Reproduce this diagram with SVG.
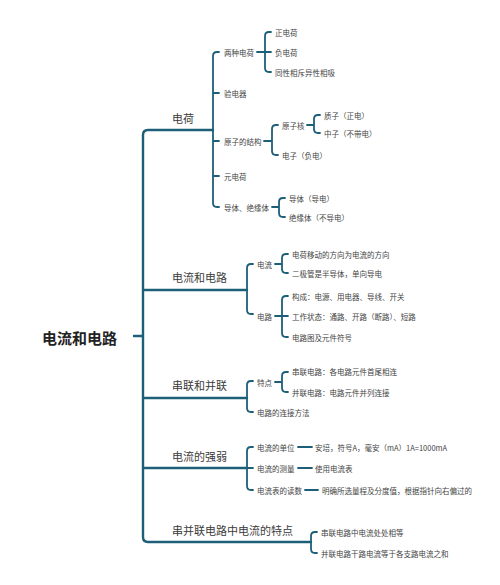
<svg xmlns="http://www.w3.org/2000/svg" width="500" height="585" viewBox="0 0 500 585">
<style>
.ln{fill:none;stroke:#1d5f78;stroke-linecap:round;stroke-linejoin:round}
.main{stroke-width:2.4}
.sub{stroke-width:1.8}
text{font-family:"Noto Sans CJK SC","Noto Sans",sans-serif;fill:#333;dominant-baseline:central}
.root{font-size:15px;font-weight:bold;fill:#222}
.t1{font-size:11px;fill:#3a3a3a}
.t2{font-size:7.5px;fill:#444}
</style>
<rect width="500" height="585" fill="#fff"/>
<g id="connectors">
<path class="ln main" d="M134 336 H143"/>
<path class="ln main" d="M213 130 H148 Q143 130 143 135 V537 Q143 542 148 542 H311"/>
<path class="ln main" d="M143 290 H247 M143 398 H247 M143 468 H247"/>
<path class="ln sub" d="M219 52 H217 Q213 52 213 56 V203 Q213 207 217 207 H219 M213 93 H219 M213 141 H219 M213 176 H219"/>
<path class="ln sub" d="M257 52 H271 M271 32 H269 Q265 32 265 36 V68 Q265 72 269 72 H271"/>
<path class="ln sub" d="M264 141 H272 M278 125 H276 Q272 125 272 129 V151 Q272 155 276 155 H278"/>
<path class="ln sub" d="M307 125 H314 M320 115 H318 Q314 115 314 119 V129 Q314 133 318 133 H320"/>
<path class="ln sub" d="M272 207 H279 M285 198 H283 Q279 198 279 202 V213 Q279 217 283 217 H285"/>
<path class="ln sub" d="M253 264 H251 Q247 264 247 268 V310 Q247 314 251 314 H253"/>
<path class="ln sub" d="M275 264 H282 M288 254 H286 Q282 254 282 258 V269 Q282 273 286 273 H288"/>
<path class="ln sub" d="M275 316 H282 M288 296 H286 Q282 296 282 300 V333 Q282 337 286 337 H288 M282 316 H288"/>
<path class="ln sub" d="M253 381 H251 Q247 381 247 385 V408 Q247 412 251 412 H253"/>
<path class="ln sub" d="M275 382 H282 M288 372 H286 Q282 372 282 376 V388 Q282 392 286 392 H288"/>
<path class="ln sub" d="M253 447 H251 Q247 447 247 451 V486 Q247 490 251 490 H253 M247 468 H253"/>
<path class="ln sub" d="M298 447 H312 M298 468 H312 M305 490 H318"/>
<path class="ln sub" d="M317 532 H315 Q311 532 311 536 V549 Q311 553 315 553 H317"/>
</g>
<g id="root"><text class="root" x="42" y="337">电流和电路</text></g>
<g id="n1"><text class="t1" x="172" y="118">电荷</text></g>
<g id="n1a"><text class="t2" x="224" y="52">两种电荷</text></g>
<g id="n1a1"><text class="t2" x="275" y="32">正电荷</text></g>
<g id="n1a2"><text class="t2" x="275" y="52">负电荷</text></g>
<g id="n1a3"><text class="t2" x="275" y="72">同性相斥异性相吸</text></g>
<g id="n1b"><text class="t2" x="224" y="93">验电器</text></g>
<g id="n1c"><text class="t2" x="224" y="141">原子的结构</text></g>
<g id="n1c1"><text class="t2" x="282" y="125">原子核</text></g>
<g id="n1c1a"><text class="t2" x="324" y="115">质子（正电）</text></g>
<g id="n1c1b"><text class="t2" x="324" y="133">中子（不带电）</text></g>
<g id="n1c2"><text class="t2" x="282" y="155">电子（负电）</text></g>
<g id="n1d"><text class="t2" x="224" y="176">元电荷</text></g>
<g id="n1e"><text class="t2" x="224" y="207">导体、绝缘体</text></g>
<g id="n1e1"><text class="t2" x="289" y="198">导体（导电）</text></g>
<g id="n1e2"><text class="t2" x="289" y="217">绝缘体（不导电）</text></g>
<g id="n2"><text class="t1" x="172" y="277">电流和电路</text></g>
<g id="n2a"><text class="t2" x="257" y="264">电流</text></g>
<g id="n2a1"><text class="t2" x="292" y="254">电荷移动的方向为电流的方向</text></g>
<g id="n2a2"><text class="t2" x="292" y="273">二极管是半导体，单向导电</text></g>
<g id="n2b"><text class="t2" x="257" y="316">电路</text></g>
<g id="n2b1"><text class="t2" x="292" y="296">构成：电源、用电器、导线、开关</text></g>
<g id="n2b2"><text class="t2" x="292" y="316">工作状态：通路、开路（断路）、短路</text></g>
<g id="n2b3"><text class="t2" x="292" y="337">电路图及元件符号</text></g>
<g id="n3"><text class="t1" x="172" y="385">串联和并联</text></g>
<g id="n3a"><text class="t2" x="257" y="382">特点</text></g>
<g id="n3a1"><text class="t2" x="292" y="371">串联电路：各电路元件首尾相连</text></g>
<g id="n3a2"><text class="t2" x="292" y="392">并联电路：电路元件并列连接</text></g>
<g id="n3b"><text class="t2" x="257" y="412">电路的连接方法</text></g>
<g id="n4"><text class="t1" x="172" y="456">电流的强弱</text></g>
<g id="n4a"><text class="t2" x="257" y="447">电流的单位</text></g>
<g id="n4a1"><text class="t2" x="315" y="447">安培，符号A，毫安（mA）1A=1000mA</text></g>
<g id="n4b"><text class="t2" x="257" y="468">电流的测量</text></g>
<g id="n4b1"><text class="t2" x="315" y="468">使用电流表</text></g>
<g id="n4c"><text class="t2" x="257" y="490">电流表的读数</text></g>
<g id="n4c1"><text class="t2" x="322" y="490">明确所选量程及分度值，根据指针向右偏过的</text></g>
<g id="n5"><text class="t1" x="172" y="530">串并联电路中电流的特点</text></g>
<g id="n5a"><text class="t2" x="321" y="532">串联电路中电流处处相等</text></g>
<g id="n5b"><text class="t2" x="321" y="553">并联电路干路电流等于各支路电流之和</text></g>
</svg>
